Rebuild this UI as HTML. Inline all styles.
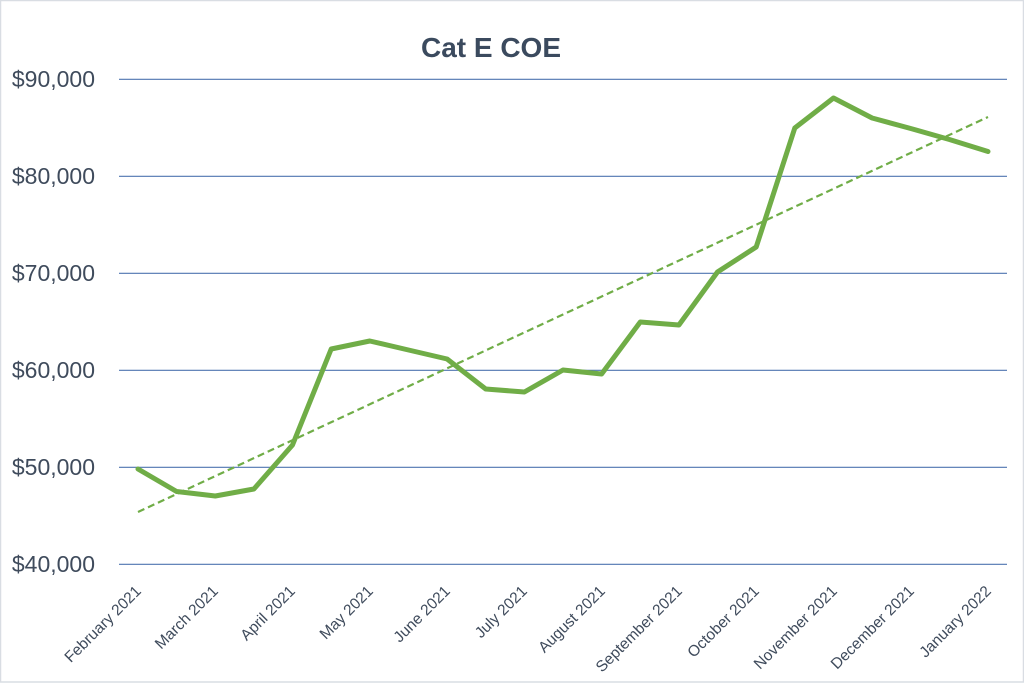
<!DOCTYPE html>
<html>
<head>
<meta charset="utf-8">
<style>
  html, body { margin: 0; padding: 0; background: #ffffff; }
  body { width: 1024px; height: 683px; overflow: hidden; }
  svg { display: block; }
</style>
</head>
<body>
<svg width="1024" height="683" viewBox="0 0 1024 683" xmlns="http://www.w3.org/2000/svg">
  <rect x="0.5" y="0.5" width="1023" height="681.5" fill="#ffffff" stroke="#d9dde3" stroke-width="1.5"/>

  <!-- Title -->
  <text x="491" y="57" text-anchor="middle" font-family="Liberation Sans, sans-serif" font-weight="bold" font-size="28" fill="#3b4a5e">Cat E COE</text>

  <!-- Gridlines -->
  <g stroke="#4f74b0" stroke-width="1.2">
    <line x1="119" y1="79.3" x2="1007" y2="79.3"/>
    <line x1="119" y1="176.3" x2="1007" y2="176.3"/>
    <line x1="119" y1="273.3" x2="1007" y2="273.3"/>
    <line x1="119" y1="370.3" x2="1007" y2="370.3"/>
    <line x1="119" y1="467.3" x2="1007" y2="467.3"/>
    <line x1="119" y1="564.3" x2="1007" y2="564.3"/>
  </g>

  <!-- Y labels -->
  <g font-family="Liberation Sans, sans-serif" font-size="23" fill="#3f4b5c" text-anchor="end">
    <text x="95" y="87">$90,000</text>
    <text x="95" y="184">$80,000</text>
    <text x="95" y="281">$70,000</text>
    <text x="95" y="378">$60,000</text>
    <text x="95" y="475">$50,000</text>
    <text x="95" y="572">$40,000</text>
  </g>

  <!-- X labels -->
  <g font-family="Liberation Sans, sans-serif" font-size="15.5" fill="#3f4b5c" text-anchor="end">
    <text transform="translate(142,592) rotate(-45)">February 2021</text>
    <text transform="translate(219,592) rotate(-45)">March 2021</text>
    <text transform="translate(296,592) rotate(-45)">April 2021</text>
    <text transform="translate(374,592) rotate(-45)">May 2021</text>
    <text transform="translate(451,592) rotate(-45)">June 2021</text>
    <text transform="translate(528,592) rotate(-45)">July 2021</text>
    <text transform="translate(606,592) rotate(-45)">August 2021</text>
    <text transform="translate(683,592) rotate(-45)">September 2021</text>
    <text transform="translate(760,592) rotate(-45)">October 2021</text>
    <text transform="translate(838,592) rotate(-45)">November 2021</text>
    <text transform="translate(915,592) rotate(-45)">December 2021</text>
    <text transform="translate(992,592) rotate(-45)">January 2022</text>
  </g>

  <!-- Data line -->
  <polyline fill="none" stroke="#70ad47" stroke-width="5" stroke-linejoin="round" stroke-linecap="round"
    points="138,469 176.6,491.5 215.3,496 253.9,489 292.5,445 331.2,349 369.8,341 408.5,350 447.1,359 485.7,389 524.4,392 563,370 601.6,374 640.3,322 678.9,325 717.5,272 756.2,247 794.8,128 833.5,98 872.1,118 910.7,128.5 949.4,139.5 988,151.5"/>

  <!-- Trendline -->
  <line x1="138" y1="512" x2="988" y2="117" stroke="#70ad47" stroke-width="2.2" stroke-dasharray="7,4"/>
</svg>
</body>
</html>
